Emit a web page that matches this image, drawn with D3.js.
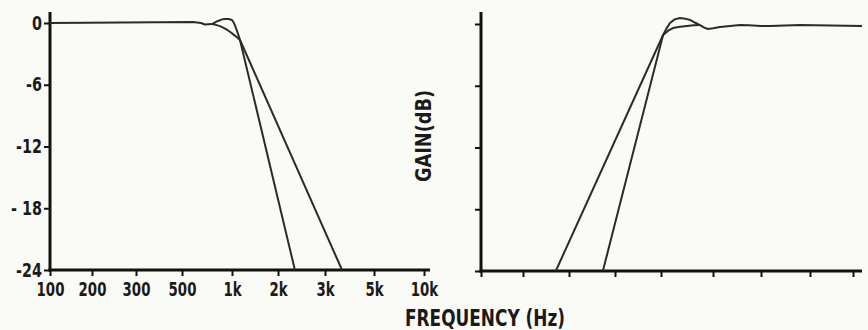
<!DOCTYPE html>
<html lang="en">
<head>
<meta charset="UTF-8">
<title>Filter response</title>
<script src="https://d3js.org/d3.v7.min.js"></script>
<style>
  body { margin:0; background:#fafaf6; }
  text { font-family:'Liberation Sans Narrow','DejaVu Sans Condensed',sans-serif; font-weight:bold; fill:#1a1a1a; }
  .axis line, .axisline { stroke:#111; }
  .curve { fill:none; stroke:#2b2b2b; stroke-width:2; stroke-linejoin:round; }
</style>
</head>
<body>
<script>
// tick values (Hz) and their labels
var freqTicks = [100, 200, 300, 500, 1000, 2000, 3000, 5000, 10000];
var freqLabels = ["100", "200", "300", "500", "1k", "2k", "3k", "5k", "10k"];
var gainTicks = [0, -6, -12, -18, -24];
var gainLabels = ["0", "-6", "-12", "- 18", "-24"];

// low-pass (left) : [Hz, dB]
var lowPeak = [[100,0],[583,0.1],[650,0],[688,-0.15],[758,-0.1],[790,0.05],[824,0.2],[865,0.33],[908,0.4],
               [955,0.38],[1000,0.3],[1030,0],[1062,-0.5],[1095,-1.05],[1128,-1.65],[2314,-24]];
var lowSmooth = [[758,-0.1],[800,-0.18],[846,-0.3],[910,-0.55],[972,-0.85],[1050,-1.25],[1128,-1.65],[3583,-24]];

// high-pass (right)
var highPeak = [[437,-24],[1028,-1.07],[1075,-0.45],[1127,0.1],[1200,0.45],[1288,0.58],[1380,0.52],[1474,0.39],
                [1580,0.12],[1682,-0.1],[1780,-0.35],[1871,-0.49],[2000,-0.42],[2122,-0.29],[2309,-0.19],[2512,-0.1],
                [2700,-0.12],[3000,-0.2],[3290,-0.19],[4500,-0.1],[7000,-0.15],[11560,-0.19]];
var highSmooth = [[267,-24],[1028,-1.07],[1100,-0.65],[1173,-0.39],[1290,-0.27],[1414,-0.19],[1550,-0.13],[1682,-0.1]];

var svg = d3.select("body").append("svg").attr("width", 868).attr("height", 330);

// squeeze tick labels to the narrow hand lettering
function narrow(sel, k) {
  sel.each(function() {
    var w = this.getComputedTextLength();
    if (w > 0) d3.select(this).attr("textLength", w * k).attr("lengthAdjust", "spacingAndGlyphs");
  });
}

function panel(opts) {
  var x = d3.scaleLog().domain(freqTicks).range(opts.xr);
  var y = d3.scaleLinear().domain([-24, 0]).range(opts.yr);
  var g = svg.append("g");

  var ya = d3.axisLeft(y).tickValues(gainTicks).tickSize(6).tickSizeOuter(0)
    .tickFormat(function(d, i) { return opts.labels ? gainLabels[i] : ""; });
  var yg = g.append("g").attr("class", "axis").attr("transform", "translate(" + opts.xr[0] + ",0)").call(ya);
  yg.select(".domain").remove();
  yg.selectAll("line").attr("stroke-width", 2);
  yg.selectAll("text").attr("font-size", 19).attr("x", -8).attr("dy", "0.32em").call(narrow, 0.84);

  var xa = d3.axisBottom(x).tickValues(freqTicks).tickSize(6).tickSizeOuter(0)
    .tickFormat(function(d, i) { return opts.labels ? freqLabels[i] : ""; });
  var xg = g.append("g").attr("class", "axis").attr("transform", "translate(0," + opts.yr[0] + ")").call(xa);
  xg.select(".domain").remove();
  xg.selectAll("line").attr("stroke-width", 2);
  xg.selectAll("text").attr("font-size", 20).attr("y", 12).call(narrow, 0.74);

  g.append("line").attr("class", "axisline").attr("stroke-width", 3)
    .attr("x1", opts.xr[0]).attr("x2", opts.xr[0]).attr("y1", opts.top).attr("y2", opts.yr[0] + 1.5);
  g.append("line").attr("class", "axisline").attr("stroke-width", 3)
    .attr("x1", opts.xr[0] - 1.5).attr("x2", opts.right).attr("y1", opts.yr[0]).attr("y2", opts.yr[0]);

  var line = d3.line().x(function(d) { return x(d[0]); }).y(function(d) { return y(d[1]); });
  opts.series.forEach(function(s) {
    g.append("path").attr("class", "curve").attr("d", line(s));
  });
}

panel({ xr: [50, 92, 136, 182, 232, 278, 325, 374, 424], yr: [270, 23], top: 12, right: 430,
        labels: true, series: [lowPeak, lowSmooth] });
panel({ xr: [481, 523, 569, 615, 661, 713, 761, 810, 853], yr: [271, 24], top: 12, right: 862,
        labels: false, series: [highPeak, highSmooth] });

svg.append("text").attr("transform", "translate(431,136) rotate(-90)")
  .attr("text-anchor", "middle").attr("font-size", 21)
  .attr("textLength", 92).attr("lengthAdjust", "spacingAndGlyphs").text("GAIN(dB)");

svg.append("text").attr("x", 405).attr("y", 326).attr("font-size", 23)
  .attr("textLength", 160).attr("lengthAdjust", "spacingAndGlyphs").text("FREQUENCY (Hz)");
</script>
</body>
</html>
